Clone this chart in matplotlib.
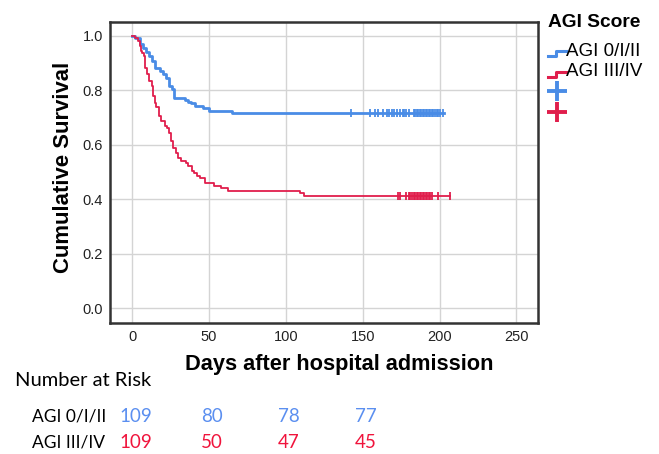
import numpy as np
import matplotlib
matplotlib.use("Agg")
import matplotlib.pyplot as plt
from matplotlib.lines import Line2D
from matplotlib.legend_handler import HandlerBase
import matplotlib.transforms as mtransforms

# Kaplan-Meier steps (days, cumulative survival)
blue_t = [0, 2, 5, 7, 9, 11, 13, 15, 18, 20, 22, 24, 26, 27, 34, 36, 38, 41, 46, 50, 65]
blue_s = [1.0, 0.991, 0.972, 0.954, 0.940, 0.927, 0.908, 0.881, 0.872, 0.862, 0.844,
          0.817, 0.806, 0.771, 0.764, 0.757, 0.752, 0.743, 0.734, 0.725, 0.716]
blue_end = 203
blue_cens = [142.5, 154.5, 158, 160, 163, 166, 167, 169, 170, 172, 174, 176, 177, 178,
             180, 183, 184, 185, 186, 187, 188, 189, 190, 191, 192, 193, 194, 195, 196,
             197, 198, 199, 200, 202.5]

red_t = [0, 2, 4, 5, 5.5, 6.5, 7.5, 8.3, 9.3, 11, 12.6, 13.7, 14.8, 15.4, 17.6, 19, 21,
         22.4, 24, 25, 26.7, 28.5, 30, 32, 35, 36.5, 38.7, 40, 42, 44, 47.3, 53, 58, 62.5,
         109, 112]
red_s = [1.0, 0.991, 0.982, 0.963, 0.945, 0.936, 0.927, 0.881, 0.862, 0.835, 0.817, 0.780,
         0.752, 0.740, 0.706, 0.688, 0.670, 0.661, 0.642, 0.615, 0.587, 0.569, 0.550, 0.541,
         0.532, 0.523, 0.505, 0.495, 0.486, 0.477, 0.459, 0.450, 0.440, 0.431, 0.422, 0.413]
red_end = 207
red_cens = [173, 174, 178, 180, 181, 182, 183, 184, 185, 186, 187, 188, 189, 190, 191,
            192, 193, 194, 195, 199, 206.5]

groups = ["AGI 0/I/II", "AGI III/IV"]
risk_days = [0, 50, 100, 150]
risk_blue = [109, 80, 78, 77]
risk_red = [109, 50, 47, 45]

blue = "#4a8ce6"
red = "#e01e4c"
blue_txt = "#5b8ff0"
red_txt = "#f0143c"


class StepHandler(HandlerBase):
    # little step glyph like the SPSS legend
    def create_artists(self, legend, orig_handle, xdescent, ydescent, width, height,
                       fontsize, trans):
        xs = np.array([0, 0.45, 0.45, 1.0]) * width - xdescent
        ys = np.array([-0.05, -0.05, 0.35, 0.35]) * height - ydescent
        line = Line2D(xs, ys, color=orig_handle.get_color(), lw=2.2)
        line.set_transform(trans)
        return [line]


plt.rcParams['font.family'] = ['Liberation Sans', 'DejaVu Sans']

fig = plt.figure(figsize=(6.59, 4.54), dpi=100)
ax = fig.add_axes([0.1669, 0.2885, 0.8164 - 0.1669, 0.9515 - 0.2885])

ax.step(blue_t + [blue_end], blue_s + [blue_s[-1]], where='post', color=blue, lw=2.0, zorder=3)
ax.step(red_t + [red_end], red_s + [red_s[-1]], where='post', color=red, lw=1.3, zorder=3)
ax.plot(blue_cens, [blue_s[-1]] * len(blue_cens), ls='none', marker='|', ms=6, mew=1.3,
        color=blue, zorder=4)
ax.plot(red_cens, [red_s[-1]] * len(red_cens), ls='none', marker='|', ms=6, mew=1.3,
        color=red, zorder=4)

ax.set_xlim(-14.5, 264)
ax.set_ylim(-0.054, 1.051)
ax.set_xticks([0, 50, 100, 150, 200, 250])
ax.set_yticks([0.0, 0.2, 0.4, 0.6, 0.8, 1.0])
ax.set_yticklabels(['{:.1f}'.format(v) for v in [0.0, 0.2, 0.4, 0.6, 0.8, 1.0]])
ax.grid(True, color='#d4d4d4', lw=1.0)
ax.set_axisbelow(True)
ax.tick_params(length=0, labelsize=10.5, colors='#222222', pad=5)
for sp in ax.spines.values():
    sp.set_linewidth(1.8)
    sp.set_color('#333333')

ax.set_xlabel("Days after hospital admission", fontsize=15.7, fontweight='bold', labelpad=7)
ax.set_ylabel("Cumulative Survival", fontsize=15.9, fontweight='bold', labelpad=6.5)
ax.xaxis.label.set_x(0.535)
ax.yaxis.label.set_y(0.517)

# legend
h_blue = Line2D([], [], color=blue)
h_red = Line2D([], [], color=red)
c_blue = Line2D([], [], color=blue, marker='+', ms=15, mew=2.8, ls='none')
c_red = Line2D([], [], color=red, marker='+', ms=15, mew=2.8, ls='none')
leg = fig.legend([h_blue, h_red, c_blue, c_red], [groups[0], groups[1], "", ""],
                 loc='upper left', bbox_to_anchor=(539 / 659, 1 - 5 / 454),
                 title="AGI Score", alignment='left', frameon=False, fontsize=13.5,
                 borderpad=0, handlelength=0.95, handletextpad=0.0, labelspacing=0.2,
                 handler_map={h_blue: StepHandler(), h_red: StepHandler()})
leg.get_title().set_fontweight('bold')
leg.get_title().set_fontsize(13.8)
leg._legend_box.sep = 8

# number at risk table
tf = "Lato"
fig.text(15 / 659, 1 - 381 / 454, "Number at Risk", fontsize=14.5, family=tf, va='center')
fig.text(32 / 659, 1 - 416 / 454, groups[0], fontsize=12.5, family=tf, va='center')
fig.text(32 / 659, 1 - 443 / 454, groups[1], fontsize=12.5, family=tf, va='center')
trans = mtransforms.blended_transform_factory(ax.transData, fig.transFigure)
for d, nb, nr in zip(risk_days, risk_blue, risk_red):
    ax.text(d + 2, 1 - 416 / 454, str(nb), transform=trans, ha='center', va='center',
            fontsize=13.5, family=tf, color=blue_txt)
    ax.text(d + 2, 1 - 443 / 454, str(nr), transform=trans, ha='center', va='center',
            fontsize=13.5, family=tf, color=red_txt)

fig.savefig("out.png", dpi=100)
